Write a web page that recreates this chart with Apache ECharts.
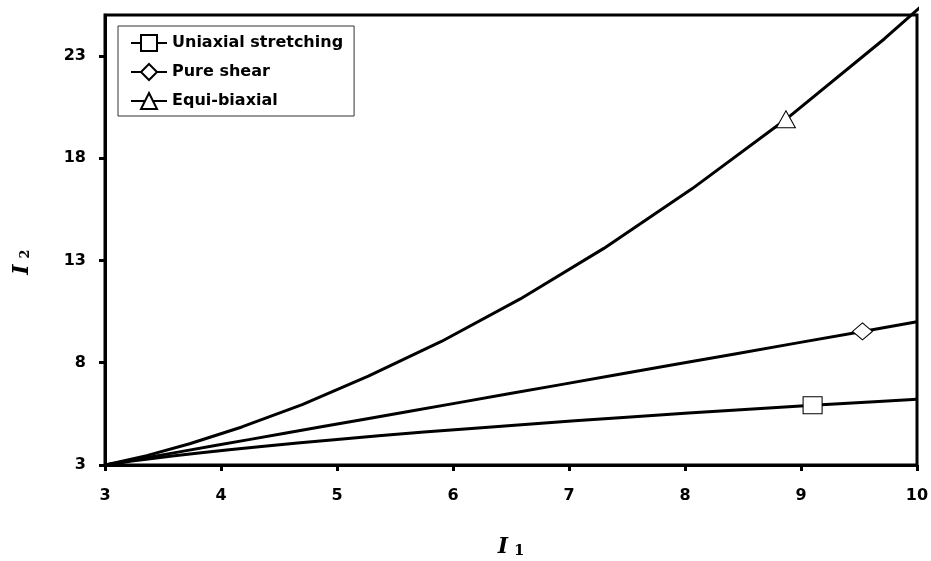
<!DOCTYPE html>
<html>
<head>
<meta charset="utf-8">
<script src="https://cdn.jsdelivr.net/npm/echarts@6/dist/echarts.min.js"></script>
<style>
  html, body { margin: 0; padding: 0; background: #fff; }
  #chart { width: 931px; height: 561px; }
</style>
</head>
<body>
<div id="chart"></div>
<script>
// Invariant pairs (I1, I2) for three deformation modes
const seriesNames = ['Uniaxial stretching', 'Pure shear', 'Equi-biaxial'];

const uniaxialI1 = [3.00, 3.03, 3.11, 3.23, 3.39, 3.58, 3.81, 4.07, 4.35, 4.66, 5.00, 5.36, 5.75, 6.16, 6.59, 7.05, 7.53, 8.03, 8.55, 9.10, 9.67, 10.00];
const uniaxialI2 = [3.00, 3.03, 3.09, 3.19, 3.31, 3.44, 3.59, 3.75, 3.91, 4.08, 4.25, 4.43, 4.61, 4.79, 4.97, 5.16, 5.35, 5.54, 5.73, 5.92, 6.11, 6.22];

const shearI1 = [3.00, 3.04, 3.13, 3.28, 3.47, 3.69, 3.95, 4.24, 4.55, 4.89, 5.25, 5.64, 6.05, 6.48, 6.93, 7.41, 7.91, 8.43, 8.97, 9.53, 10.00];
const shearI2 = [3.00, 3.04, 3.13, 3.28, 3.47, 3.69, 3.95, 4.24, 4.55, 4.89, 5.25, 5.64, 6.05, 6.48, 6.93, 7.41, 7.91, 8.43, 8.97, 9.53, 10.00];

const biaxialI1 = [3.00, 3.10, 3.36, 3.73, 4.18, 4.70, 5.27, 5.90, 6.58, 7.30, 8.06, 8.87, 9.72, 10.05];
const biaxialI2 = [3.00, 3.12, 3.46, 4.04, 4.86, 5.95, 7.34, 9.04, 11.12, 13.59, 16.50, 19.90, 23.84, 25.50];

// Index of the point carrying the open symbol on each curve
const uniaxialMark = 19;
const shearMark = 19;
const biaxialMark = 11;

const xTicks = [3, 4, 5, 6, 7, 8, 9, 10];
const yTicks = [3, 8, 13, 18, 23];

function buildData(xs, ys, markIdx) {
  return xs.map(function (x, i) {
    return i === markIdx ? [x, ys[i]] : { value: [x, ys[i]], symbol: 'none' };
  });
}

const chart = echarts.init(document.getElementById('chart'), null, { renderer: 'canvas' });

const tickFont = { fontFamily: 'DejaVu Sans', fontWeight: 'bold', fontSize: 16, color: '#000' };

function axisName(subSize, padTop, outerPad) {
  return {
    padding: outerPad,
    rich: {
      i: { fontFamily: 'DejaVu Serif', fontStyle: 'italic', fontWeight: 'bold', fontSize: 22, color: '#000' },
      s: { fontFamily: 'DejaVu Serif', fontWeight: 'bold', fontSize: subSize, color: '#000', padding: [padTop, 0, 0, 6] }
    }
  };
}

const baseSeries = {
  type: 'line',
  smooth: false,
  lineStyle: { color: '#000', width: 3 },
  itemStyle: { color: '#fff', borderColor: '#000', borderWidth: 1 },
  emphasis: { disabled: true },
  animation: false
};

chart.setOption({
  backgroundColor: '#fff',
  animation: false,
  grid: {
    left: 105, right: 14, top: 15, bottom: 96,
    outerBoundsMode: 'none',
    containLabel: false,
    show: true, borderColor: '#000', borderWidth: 3, backgroundColor: 'transparent'
  },
  legend: {
    orient: 'vertical',
    left: 118, top: 26,
    padding: [7, 11, 5, 12],
    itemGap: 9,
    itemWidth: 36,
    itemHeight: 20,
    backgroundColor: '#fff',
    borderColor: '#333',
    borderWidth: 1,
    textStyle: { fontFamily: 'DejaVu Sans', fontWeight: 'bold', fontSize: 16, color: '#000', lineHeight: 20 },
    data: seriesNames
  },
  xAxis: {
    type: 'value',
    min: 3, max: 10, interval: 1,
    name: '{i|I}{s|1}',
    nameLocation: 'middle',
    nameGap: 71,
    nameTextStyle: axisName(15, 8, [0, 0, 0, 0]),
    axisLine: { show: true, lineStyle: { color: '#000', width: 3 } },
    axisTick: { show: true, inside: false, length: 6, lineStyle: { color: '#000', width: 3 } },
    axisLabel: Object.assign({ margin: 23, customValues: xTicks }, tickFont),
    splitLine: { show: false }
  },
  yAxis: {
    type: 'value',
    min: 3, max: 25,
    name: '{i|I}{s|2}',
    nameLocation: 'middle',
    nameGap: 72,
    nameRotate: 90,
    nameTextStyle: axisName(13, 8, [0, 44, 0, 0]),
    axisLine: { show: true, lineStyle: { color: '#000', width: 3 } },
    axisTick: { show: true, inside: false, length: 6, customValues: yTicks, lineStyle: { color: '#000', width: 3 } },
    axisLabel: Object.assign({ margin: 19, customValues: yTicks }, tickFont),
    splitLine: { show: false }
  },
  series: [
    Object.assign({}, baseSeries, {
      name: seriesNames[0], symbol: 'rect', symbolSize: [19, 17],
      data: buildData(uniaxialI1, uniaxialI2, uniaxialMark)
    }),
    Object.assign({}, baseSeries, {
      name: seriesNames[1], symbol: 'diamond', symbolSize: [20, 17],
      data: buildData(shearI1, shearI2, shearMark)
    }),
    Object.assign({}, baseSeries, {
      name: seriesNames[2], symbol: 'triangle', symbolSize: [19, 17], clip: false,
      data: buildData(biaxialI1, biaxialI2, biaxialMark)
    })
  ]
});
</script>
</body>
</html>
